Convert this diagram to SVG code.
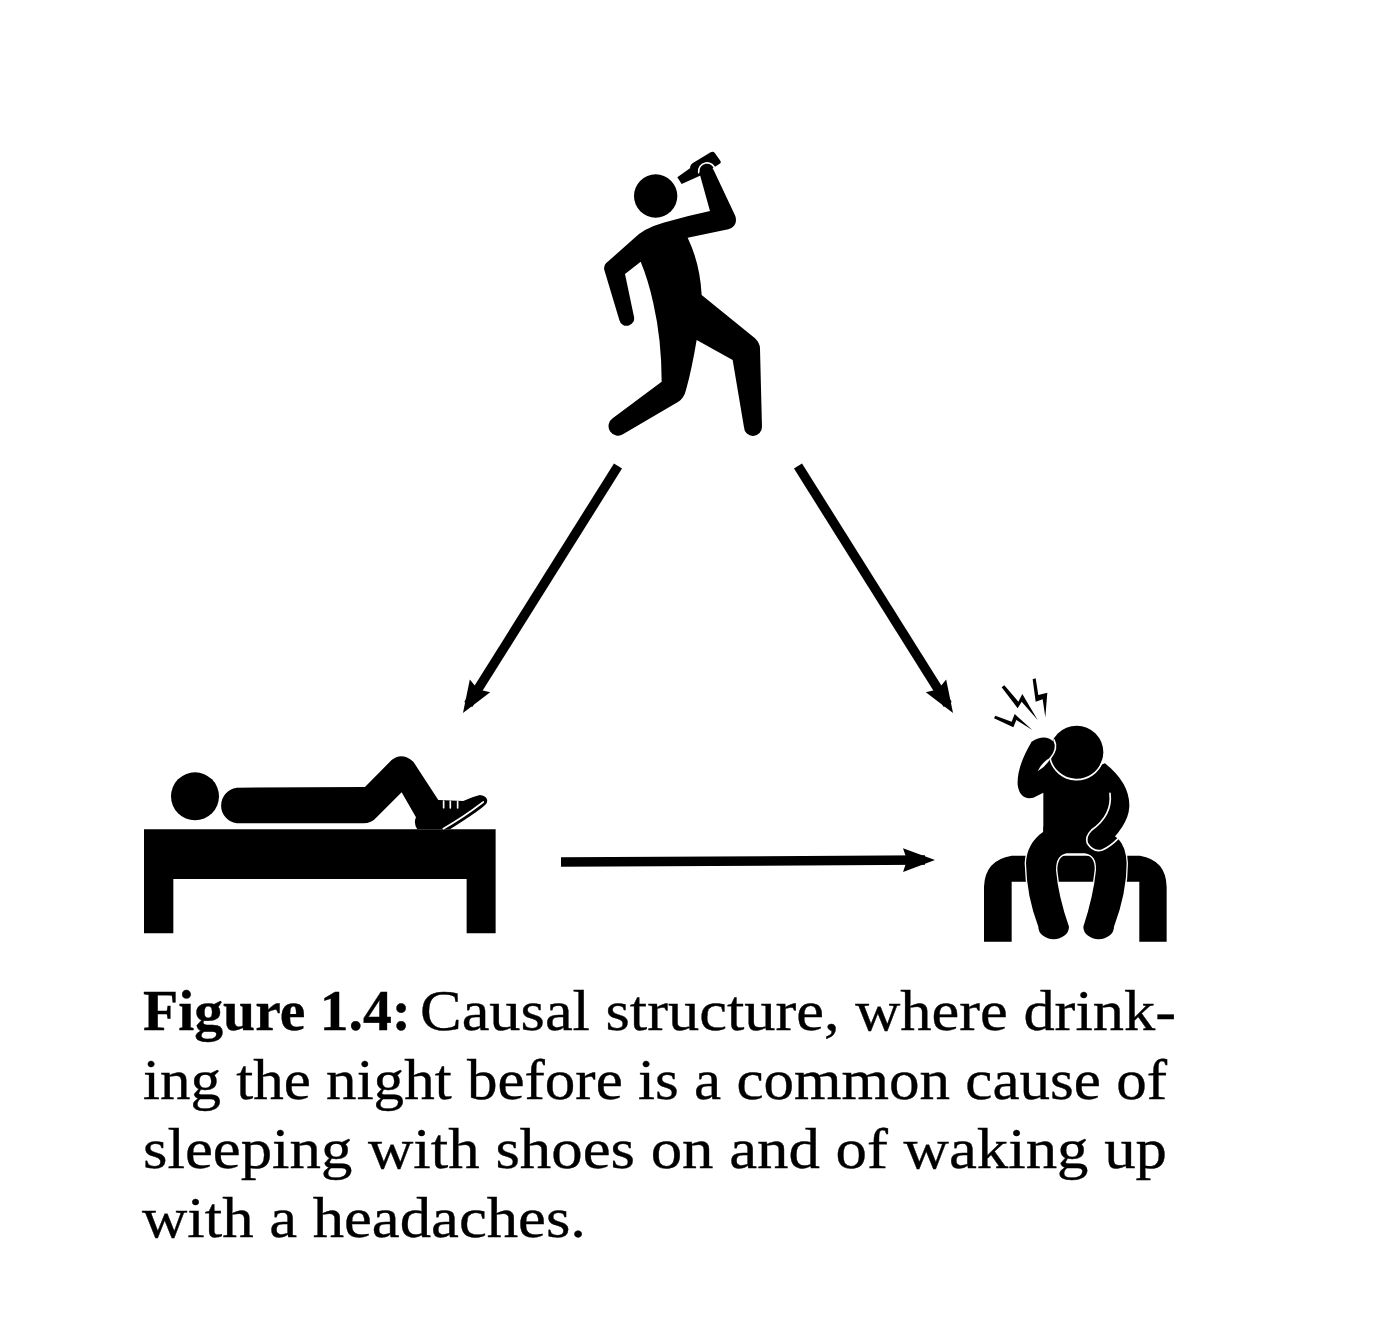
<svg xmlns="http://www.w3.org/2000/svg" width="1382" height="1324" viewBox="0 0 1382 1324">
<style>
.ink{fill:#000}
.halo{fill:#000;stroke:#fff;stroke-width:8;paint-order:stroke;stroke-linejoin:round}
.gap{fill:none;stroke:#fff;stroke-width:5;stroke-linecap:round}
.edge{fill:none;stroke:#000;stroke-width:9.5}
.cap{font-family:"Liberation Serif",serif;font-size:56px;fill:#000;stroke:#000;stroke-width:.35}
.b{font-weight:700}
</style>
<defs>
<marker id="head" markerUnits="userSpaceOnUse" markerWidth="40" markerHeight="30" viewBox="0 0 40 30" refX="22" refY="15" orient="auto">
<path class="ink" d="M0 3L32 15L0 27L4 15Z"/>
</marker>
</defs>
<rect width="1382" height="1324" fill="#fff"/>
<g id="connectors">
<path class="edge" marker-end="url(#head)" d="M618 466L468.3 704.5"/>
<path class="edge" marker-end="url(#head)" d="M798 466L947.7 704.5"/>
<path class="edge" marker-end="url(#head)" d="M561 862L925 860"/>
</g>
<g id="drinker" transform="translate(590 140) scale(.3333)">
<circle class="ink" cx="197" cy="168" r="65"/>
<path class="ink" d="M262 112L300 85Q300 72 315 65L362 37Q370 33 375 40L391 62Q395 68 388 72L375 80L335 105L275 132Z"/>
<path class="gap" d="M326 98A25 25 0 0 1 376 90"/>
<path class="ink" d="M48 370L130 297Q160 265 220 248Q290 228 360 213L330 105A22 22 0 0 1 372 92L436 228Q445 258 415 268L293 293Q330 370 335 465L495 595Q510 610 510 625L516 860A27 27 0 0 1 462 862L428 660L320 600Q305 690 288 750Q282 775 265 785L100 882A27 27 0 0 1 68 835L215 725Q215 600 190 490Q175 420 152 365L105 402L132 530A22 22 0 0 1 88 540L43 390Q40 378 48 370Z"/>
</g>
<g id="sleeper" transform="translate(130 740) scale(.3333)">
<circle class="ink" cx="195" cy="169" r="72"/>
<path class="ink" d="M42 268H1097V580H1010V417H130V580H42Z"/>
<path class="ink" d="M320 143L705 141L785 60Q815 35 850 65L925 180L1000 183Q1030 170 1050 165Q1078 170 1070 190Q1060 205 960 268H862Q850 250 858 232L815 157L740 232Q725 250 700 250H320A54 54 0 0 1 320 143Z"/>
<path class="gap" d="M941 183V203M961 184V204M983 184V204"/>
<path class="gap" d="M940 266Q1000 232 1060 186"/>
</g>
<g id="headache" transform="translate(970 670) scale(.3333)">
<path class="ink" d="M72 145L76 137L125 155L134 132L187 180L139 150L130 172Z"/>
<path class="ink" d="M95 52L103 46L145 95L157 72L203 150L155 95L143 115Z"/>
<path class="ink" d="M188 28L197 25L205 75L232 68L226 142L218 88L197 95Z"/>
<path class="ink" d="M42 815V650Q45 570 125 557H510Q588 570 590 650V815H508V635H125V815Z"/>
<path class="halo" d="M220 485Q170 520 168 580Q170 680 205 770A46 38 0 0 0 297 770Q265 680 258 600Q258 555 290 550H345Q380 555 378 600Q370 680 340 770A46 38 0 0 0 432 770Q470 670 470 580Q468 530 445 507L400 470H220Z"/>
<path class="ink" d="M220 510V368L190 383Q150 392 143 345Q140 290 185 215L240 265L300 320L405 280Q480 340 478 410Q475 470 395 538L340 540L230 490Z"/>
<circle class="ink" cx="320" cy="247" r="80"/>
<path class="gap" d="M240 265A82 82 0 0 0 398 272"/>
<path class="gap" d="M420 370Q428 435 365 480Q345 500 352 520Q370 548 397 540Q420 530 445 505"/>
<path class="ink" d="M185 215Q225 190 250 215Q262 235 240 262L205 300L170 290Z"/>
<path class="gap" d="M252 210Q265 235 242 264"/>
<path fill="#fff" d="M203 304Q215 276 243 262Q230 288 203 304Z"/>
</g>
<g id="caption">
<text class="cap" y="1030"><tspan class="b" x="143" textLength="268" lengthAdjust="spacingAndGlyphs">Figure 1.4:</tspan><tspan x="420" textLength="756" lengthAdjust="spacingAndGlyphs">Causal structure, where drink-</tspan></text>
<text class="cap" x="143" y="1099" textLength="1024" lengthAdjust="spacingAndGlyphs">ing the night before is a common cause of</text>
<text class="cap" x="143" y="1168" textLength="1024" lengthAdjust="spacingAndGlyphs">sleeping with shoes on and of waking up</text>
<text class="cap" x="142" y="1237" textLength="444" lengthAdjust="spacingAndGlyphs">with a headaches.</text>
</g>
</svg>
